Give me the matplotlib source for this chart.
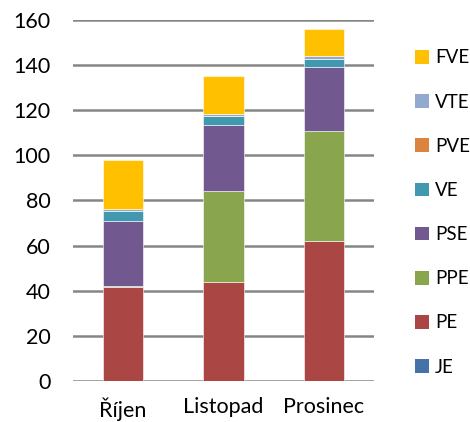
import matplotlib
matplotlib.use("Agg")
import matplotlib.pyplot as plt
from matplotlib.patches import Patch
import numpy as np

categories = ["Říjen", "Listopad", "Prosinec"]
series_names = ["JE", "PE", "PPE", "PSE", "VE", "PVE", "VTE", "FVE"]
JE = [0, 0, 0]
PE = [41.5, 44.1, 62.1]
PPE = [0.8, 40.3, 48.7]
PSE = [28.7, 29.1, 28.2]
VE = [4.3, 3.8, 3.7]
PVE = [0, 0, 0]
VTE = [1.0, 0.9, 1.3]
FVE = [21.8, 16.9, 11.9]
values = [JE, PE, PPE, PSE, VE, PVE, VTE, FVE]
colors = ["#4572A7", "#AA4643", "#89A54E", "#71588F", "#4198AF", "#DB843D", "#93A9CF", "#FFC000"]
yticks = [0, 20, 40, 60, 80, 100, 120, 140, 160]

plt.rcParams['font.family'] = ['Lato', 'DejaVu Sans']
fig = plt.figure(figsize=(4.7, 4.22), dpi=100)
ax = fig.add_axes([0.155, 0.097, 0.641, 0.856])
x = np.arange(len(categories))
bottom = np.zeros(len(categories))
for name, vals, c in zip(series_names, values, colors):
    ax.bar(x, vals, 0.4, bottom=bottom, color=c, edgecolor="white", linewidth=0.4, label=name, zorder=3)
    bottom += np.array(vals)

ax.set_ylim(0, 160)
ax.set_xlim(-0.5, 2.5)
ax.set_yticks(yticks)
ax.set_xticks(x)
ax.set_xticklabels(categories, fontsize=15.5, color="#000000")
ax.tick_params(axis='y', labelsize=15.5, length=0, pad=16)
ax.tick_params(axis='x', length=0, pad=11.5)
for s in ax.spines.values():
    s.set_visible(False)
ax.yaxis.grid(True, color="#868686", linewidth=1.8, zorder=0)
ax.set_axisbelow(True)

handles = [Patch(facecolor=c, edgecolor='none') for c in colors][::-1]
labels = series_names[::-1]
fig.legend(handles, labels, loc='upper left', bbox_to_anchor=(0.882, 0.883), frameon=False,
           fontsize=13.5, labelspacing=1.45, handlelength=0.75, handleheight=0.75, handletextpad=0.35,
           borderpad=0, borderaxespad=0)
fig.savefig("out.png", dpi=100)
